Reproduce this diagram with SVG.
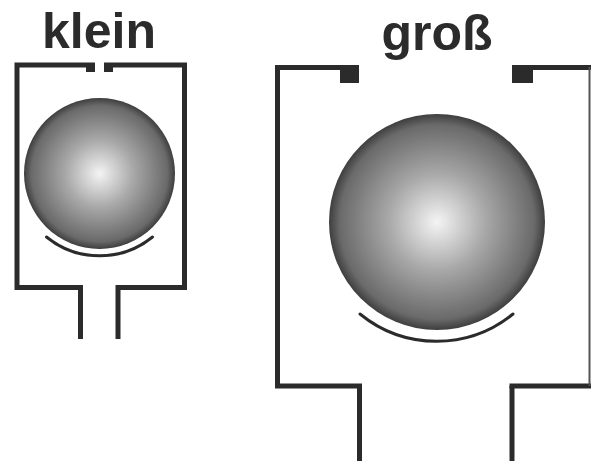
<svg xmlns="http://www.w3.org/2000/svg" width="591" height="461" viewBox="0 0 591 461">
  <style>
    .wall { fill: none; stroke: #2b2b2b; stroke-width: 5; stroke-linejoin: miter; stroke-linecap: butt; }
    .thin { fill: none; stroke: #555; stroke-width: 2; }
    .tab { fill: #2b2b2b; }
    .seat { fill: none; stroke: #2b2b2b; stroke-width: 3; stroke-linecap: round; }
    .label { font-family: "Liberation Sans", Arial, sans-serif; font-weight: bold; font-size: 50px; fill: #2b2b2b; text-anchor: middle; }
  </style>
  <defs>
    <radialGradient id="ballShade" cx="0.5" cy="0.5" r="0.5">
      <stop offset="0" stop-color="#f4f4f4"/>
      <stop offset="0.45" stop-color="#a8a8a8"/>
      <stop offset="0.9" stop-color="#6a6a6a"/>
      <stop offset="1" stop-color="#3e3e3e"/>
    </radialGradient>
  </defs>

  <!-- small chamber -->
  <g id="klein">
    <text class="label" x="99" y="48">klein</text>
    <path class="wall" d="M95,65 H17 V287.5 H80.5 V339"/>
    <path class="wall" d="M104,65 H184.5 V287.5 H118 V339"/>
    <rect class="tab" x="86" y="63" width="9" height="9"/>
    <rect class="tab" x="104" y="63" width="9" height="9"/>
    <circle cx="99.5" cy="173.5" r="75.5" fill="url(#ballShade)"/>
    <path class="seat" d="M46.5,237 A84,84 0 0 0 152.5,237"/>
  </g>

  <!-- large chamber -->
  <g id="gross">
    <text class="label" x="437" y="50">groß</text>
    <path class="wall" d="M359,67.5 H277.5 V386 H359.5 V461"/>
    <path class="wall" d="M512,67.5 H591"/>
    <path class="wall" d="M512,386 V461"/>
    <path class="wall" d="M509.5,386 H591"/>
    <line class="thin" x1="589.5" y1="67" x2="589.5" y2="386"/>
    <rect class="tab" x="340" y="65" width="19" height="18"/>
    <rect class="tab" x="512" y="65" width="21" height="18"/>
    <circle cx="437" cy="222" r="108" fill="url(#ballShade)"/>
    <path class="seat" d="M360,314 A121,121 0 0 0 513,314"/>
  </g>

  <g id="connectors"/>
</svg>
